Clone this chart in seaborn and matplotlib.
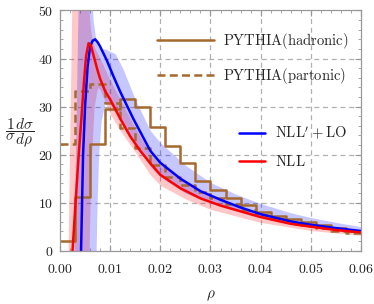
import numpy as np
import matplotlib
matplotlib.use("Agg")
import matplotlib.pyplot as plt
from matplotlib.ticker import MultipleLocator, FuncFormatter
import seaborn as sns

# PYTHIA histograms (bin width 0.003 in rho)
bin_edges = np.linspace(0.0, 0.06, 21)
hadronic = [2.0, 11.2, 22.2, 29.5, 31.6, 30.0, 25.8, 21.8, 18.2, 14.6,
            12.6, 10.9, 9.5, 8.1, 7.2, 6.5, 6.0, 5.35, 4.7, 4.2]
partonic = [22.2, 33.3, 34.6, 30.7, 25.5, 21.3, 17.9, 15.4, 13.7, 12.3,
            10.9, 9.7, 8.5, 7.4, 6.5, 5.8, 5.4, 4.8, 4.2, 3.7]

# NLL'+LO (blue) central curve
rho_blue = [0.0042, 0.0044, 0.0046, 0.0050, 0.0055, 0.0060, 0.0065, 0.0070, 0.0075,
            0.0080, 0.0093, 0.0107, 0.0120, 0.0146, 0.0180, 0.0200, 0.0240, 0.0280,
            0.0320, 0.0360, 0.0400, 0.0460, 0.0500, 0.0550, 0.0600]
val_blue = [0.0, 10.0, 20.0, 30.0, 38.3, 42.5, 43.7, 44.0, 43.4,
            42.5, 39.7, 36.2, 33.1, 27.5, 20.8, 18.3, 15.0, 12.4,
            10.6, 9.0, 7.6, 6.1, 5.4, 4.7, 4.1]

# NLL (red) central curve
rho_red = [0.0025, 0.0031, 0.0037, 0.0043, 0.0048, 0.0052, 0.0057, 0.0062, 0.0068,
           0.0075, 0.0080, 0.0090, 0.0100, 0.0120, 0.0140, 0.0160, 0.0180, 0.0200,
           0.0240, 0.0280, 0.0320, 0.0360, 0.0400, 0.0460, 0.0500, 0.0550, 0.0600]
val_red = [0.0, 10.0, 19.5, 28.0, 35.5, 40.5, 43.2, 42.6, 40.2,
           37.5, 35.8, 33.2, 31.5, 27.5, 23.8, 20.8, 18.2, 15.8,
           13.0, 10.9, 9.4, 8.2, 7.0, 5.6, 5.0, 4.3, 3.8]

# uncertainty bands (envelopes)
rho_band_b = [0.0028, 0.0031, 0.0035, 0.0037, 0.0062, 0.0066, 0.0070, 0.0072, 0.0074,
              0.0077, 0.0082, 0.0090, 0.0100, 0.0110, 0.0125, 0.0150, 0.0180, 0.0200,
              0.0250, 0.0300, 0.0350, 0.0400, 0.0460, 0.0500, 0.0550, 0.0600]
band_b_hi = [0.0, 20.0, 45.0, 55.0, 55.0, 48.0, 45.0, 44.0, 43.0,
             42.3, 42.0, 42.0, 41.5, 41.0, 38.0, 31.5, 25.0, 22.5,
             17.8, 14.2, 11.8, 9.8, 7.9, 6.9, 5.9, 5.0]
band_b_lo = [0.0, 0.0, 0.0, 0.0, 0.0, 0.0, 0.0, 0.0, 10.0,
             20.0, 27.0, 31.0, 30.5, 29.0, 26.3, 22.0, 17.6, 15.4,
             12.0, 9.9, 8.3, 6.9, 5.5, 4.9, 4.3, 3.8]

rho_band_r = [0.0016, 0.0019, 0.0022, 0.0024, 0.0055, 0.0058, 0.0060, 0.0063, 0.0068,
              0.0075, 0.0080, 0.0100, 0.0120, 0.0150, 0.0180, 0.0200, 0.0250, 0.0300,
              0.0400, 0.0500, 0.0600]
band_r_hi = [0.0, 20.0, 40.0, 55.0, 55.0, 50.0, 47.0, 44.5, 42.5,
             41.0, 40.0, 35.5, 31.5, 25.5, 20.2, 17.9, 14.3, 11.5,
             7.4, 5.3, 4.0]
band_r_lo = [0.0, 0.0, 0.0, 0.0, 0.0, 0.0, 10.0, 20.0, 30.0,
             34.0, 33.5, 28.5, 25.0, 20.5, 15.8, 13.6, 10.8, 8.6,
             5.9, 4.2, 3.2]

brown = "#a5692f"

plt.rcParams["mathtext.fontset"] = "cm"
sns.set_style("ticks")

fig = plt.figure(figsize=(3.74, 3.04), dpi=100)
ax = fig.add_axes([0.1604, 0.1753, 0.8048, 0.7902])

# grid
for gx in np.arange(0.01, 0.06, 0.01):
    ax.axvline(gx, color="#b0b0b0", lw=0.9, ls=(0, (4, 3)), zorder=0)
for gy in np.arange(10, 50, 10):
    ax.axhline(gy, color="#b0b0b0", lw=0.9, ls=(0, (4, 3)), zorder=0)

# bands
ax.fill_between(rho_band_r, band_r_lo, band_r_hi, color="#ff0000", alpha=0.22, lw=0, zorder=1)
ax.fill_between(rho_band_b, band_b_lo, band_b_hi, color="#0000ff", alpha=0.22, lw=0, zorder=1)

# histograms
sns.lineplot(x=bin_edges, y=hadronic + hadronic[-1:], drawstyle="steps-post",
             color=brown, lw=1.8, ax=ax, label=r"$\mathrm{PYTHIA(hadronic)}$")
sns.lineplot(x=bin_edges, y=partonic + partonic[-1:], drawstyle="steps-post",
             color=brown, lw=1.8, ls="--", ax=ax, label=r"$\mathrm{PYTHIA(partonic)}$")
ax.lines[-1].set_dashes([3.2, 1.7])

# resummed curves
sns.lineplot(x=rho_blue, y=val_blue, color="#0000ff", lw=1.8, ax=ax,
             label=r"$\mathrm{NLL}'+\mathrm{LO}$")
sns.lineplot(x=rho_red, y=val_red, color="#ff0000", lw=1.8, ax=ax,
             label=r"$\mathrm{NLL}$")

ax.set_xlim(0, 0.06)
ax.set_ylim(0, 50)
ax.xaxis.set_major_locator(MultipleLocator(0.01))
ax.xaxis.set_minor_locator(MultipleLocator(0.002))
ax.yaxis.set_major_locator(MultipleLocator(10))
ax.yaxis.set_minor_locator(MultipleLocator(2))
ax.xaxis.set_major_formatter(FuncFormatter(lambda v, p: r"$%.2f$" % v))
ax.yaxis.set_major_formatter(FuncFormatter(lambda v, p: r"$%d$" % round(v)))
ax.tick_params(which="both", direction="in", top=True, right=True,
               color="#999999", labelsize=10, labelcolor="#222222")
ax.tick_params(which="major", length=4, width=0.8)
ax.tick_params(which="minor", length=2.5, width=0.6)
ax.tick_params(axis="x", which="major", pad=8)
ax.tick_params(axis="y", which="major", pad=5)
for sp in ax.spines.values():
    sp.set_color("#999999")
    sp.set_linewidth(0.9)

ax.set_xlabel(r"$\rho$", fontsize=11, labelpad=9)
ax.set_ylabel(r"$\dfrac{1}{\sigma}\dfrac{d\sigma}{d\rho}$", fontsize=11, rotation=0,
              va="center", ha="center")
ax.yaxis.set_label_coords(-0.133, 0.49)

handles, labels = ax.get_legend_handles_labels()
leg1 = ax.legend(handles[:2], labels[:2], loc="upper left", bbox_to_anchor=(0.322, 0.915),
                 frameon=False, fontsize=10.5, handlelength=3.9, handletextpad=0.6,
                 labelspacing=1.05, borderpad=0, borderaxespad=0)
ax.add_artist(leg1)
ax.legend(handles[2:], labels[2:], loc="upper left", bbox_to_anchor=(0.594, 0.525),
          frameon=False, fontsize=10.5, handlelength=1.8, handletextpad=0.7,
          labelspacing=0.85, borderpad=0, borderaxespad=0)

fig.savefig("out.png", dpi=100)
